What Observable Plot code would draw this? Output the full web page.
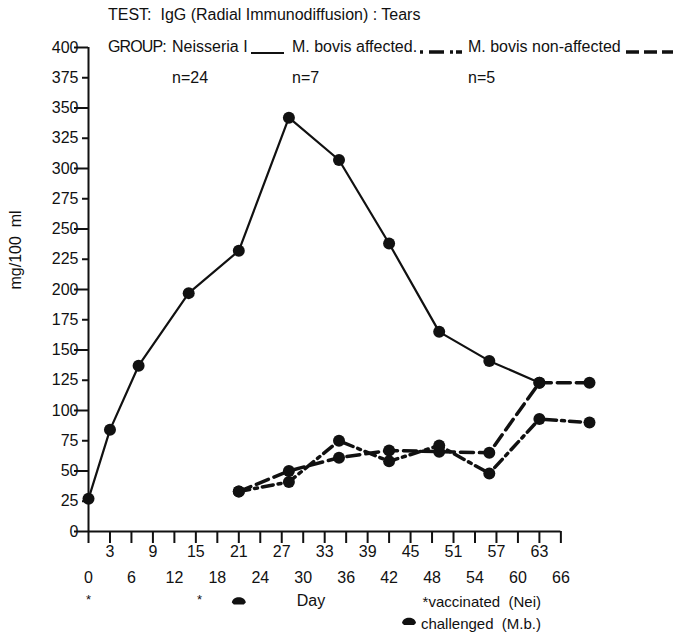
<!DOCTYPE html>
<html><head><meta charset="utf-8">
<script src="https://cdn.jsdelivr.net/npm/d3@7"></script>
<script src="https://cdn.jsdelivr.net/npm/@observablehq/plot@0.6"></script>
<style>
body{margin:0;background:#fff;}
#wrap{position:relative;width:673px;height:633px;font-family:"Liberation Sans",Arial,sans-serif;color:#111;}
.t{position:absolute;white-space:pre;font-size:16px;line-height:16px;}
#legend{position:absolute;left:0;top:0;}
</style></head><body><div id="wrap"></div>
<script>
// ---- data ----
const neisseriaDays = [0, 3, 7, 14, 21, 28, 35, 42, 49, 56, 63];
const neisseriaValues = [27, 84, 137, 197, 232, 342, 307, 238, 165, 141, 123];
const mbDays = [21, 28, 35, 42, 49, 56, 63, 70];
const affectedValues = [33, 41, 75, 58, 71, 48, 93, 90];
const nonAffectedValues = [33, 50, 61, 67, 66, 65, 123, 123];
const yTicksAll = [0, 25, 50, 75, 100, 125, 150, 175, 200, 225, 250, 275, 300, 325, 350, 375, 400];
const yTicksMajor = [0, 50, 100, 150, 200, 250, 300, 350, 400];
const yTicksMinor = [25, 75, 125, 175, 225, 275, 325, 375];
const xTicksAll = [0, 3, 6, 9, 12, 15, 18, 21, 24, 27, 30, 33, 36, 39, 42, 45, 48, 51, 54, 57, 60, 63, 66];
const xLabelsUpper = [3, 9, 15, 21, 27, 33, 39, 45, 51, 57, 63];
const xLabelsLower = [0, 6, 12, 18, 24, 30, 36, 42, 48, 54, 60, 66];
const xDomain = [0, 70];
const vaccinatedDays = [0, 15.5];
const challengedDays = [21];

const FONT = '"Liberation Sans",Arial,sans-serif';
const INK = "#111";

const neisseria = neisseriaDays.map((d, i) => ({day: d, value: neisseriaValues[i]}));
const affected = mbDays.map((d, i) => ({day: d, value: affectedValues[i]}));
const nonAffected = mbDays.map((d, i) => ({day: d, value: nonAffectedValues[i]}));

const capSymbol = {
  draw(ctx) {
    ctx.moveTo(-7, 1);
    ctx.bezierCurveTo(-6, -6, 6, -6, 7, 1);
    ctx.lineTo(5, 3);
    ctx.lineTo(-5, 3);
    ctx.closePath();
  }
};

const chart = Plot.plot({
  width: 673,
  height: 633,
  marginLeft: 88,
  marginRight: 84,
  marginTop: 47,
  marginBottom: 102,
  x: {domain: xDomain},
  y: {domain: [yTicksAll[0], yTicksAll[yTicksAll.length - 1]]},
  style: {fontFamily: FONT, fontSize: "16px", color: INK, background: "transparent", overflow: "visible"},
  marks: [
    Plot.ruleX([xTicksAll[0]], {y1: yTicksAll[0], y2: yTicksAll[yTicksAll.length - 1], stroke: INK, strokeWidth: 2}),
    Plot.ruleY([yTicksAll[0]], {x1: xTicksAll[0], x2: xTicksAll[xTicksAll.length - 1], stroke: INK, strokeWidth: 2}),
    Plot.axisY({ticks: yTicksMajor, tickSize: 14, tickFormat: () => "", label: null, strokeWidth: 2, stroke: INK}),
    Plot.axisY({ticks: yTicksMinor, tickSize: 6, tickFormat: () => "", label: null, strokeWidth: 2, stroke: INK}),
    Plot.axisY({ticks: yTicksAll, tickSize: 0, tickPadding: 10, label: null, fontSize: 16, fill: INK}),
    Plot.axisX({ticks: xTicksAll, tickSize: 12, tickFormat: () => "", label: null, strokeWidth: 2, stroke: INK}),
    Plot.axisX({ticks: xLabelsUpper, tickSize: 0, tickPadding: 14, label: null, fontSize: 16, fill: INK}),
    Plot.axisX({ticks: xLabelsLower, tickSize: 0, tickPadding: 40, label: null, fontSize: 16, fill: INK}),
    Plot.line(neisseria, {x: "day", y: "value", stroke: INK, strokeWidth: 2.2}),
    Plot.line(nonAffected, {x: "day", y: "value", stroke: INK, strokeWidth: 3.5, strokeDasharray: "13,6"}),
    Plot.line(affected, {x: "day", y: "value", stroke: INK, strokeWidth: 3.5, strokeDasharray: "11,5,3,5"}),
    Plot.dot(neisseria, {x: "day", y: "value", r: 6, fill: INK}),
    Plot.dot(nonAffected, {x: "day", y: "value", r: 6, fill: INK}),
    Plot.dot(affected, {x: "day", y: "value", r: 6, fill: INK}),
    Plot.text(vaccinatedDays, {x: d => d, frameAnchor: "bottom", dy: 72, text: () => "*", fontSize: 13, fill: INK}),
    Plot.dot(challengedDays, {x: d => d, frameAnchor: "bottom", dy: 70, symbol: capSymbol, fill: INK}),
    Plot.text(["Day"], {frameAnchor: "bottom", dx: -28, dy: 74, fontSize: 16, fill: INK}),
    Plot.text(["mg/100  ml"], {frameAnchor: "left", dx: -73, rotate: -90, fontSize: 16, fill: INK})
  ]
});

const wrap = document.getElementById("wrap");
wrap.appendChild(chart);

function addText(txt, left, top, opts = {}) {
  const s = document.createElement("div");
  s.className = "t";
  s.textContent = txt;
  if (opts.right != null) s.style.right = opts.right + "px"; else s.style.left = left + "px";
  s.style.top = top + "px";
  if (opts.size) { s.style.fontSize = opts.size + "px"; s.style.lineHeight = opts.size + "px"; }
  if (opts.spacing != null) s.style.letterSpacing = opts.spacing + "px";
  wrap.appendChild(s);
}
addText("TEST:  IgG (Radial Immunodiffusion) : Tears", 108, 7);
addText("GROUP:", 108, 39, {spacing: -0.9});
addText("Neisseria I", 172, 39);
addText("M. bovis affected.", 292, 39);
addText("M. bovis non-affected", 468, 39);
addText("n=24", 172, 70);
addText("n=7", 292, 70);
addText("n=5", 468, 70);
addText("*vaccinated  (Nei)", 0, 594, {right: 132, size: 15});
addText("challenged  (M.b.)", 0, 616, {right: 132, size: 15});

// legend line samples
const ns = "http://www.w3.org/2000/svg";
const lg = document.createElementNS(ns, "svg");
lg.setAttribute("width", 673); lg.setAttribute("height", 633);
lg.setAttribute("id", "legend");
lg.style.pointerEvents = "none";
function seg(x1, x2, y, w, dash) {
  const l = document.createElementNS(ns, "line");
  l.setAttribute("x1", x1); l.setAttribute("x2", x2);
  l.setAttribute("y1", y); l.setAttribute("y2", y);
  l.setAttribute("stroke", INK); l.setAttribute("stroke-width", w);
  if (dash) l.setAttribute("stroke-dasharray", dash);
  lg.appendChild(l);
}
seg(251, 284, 53, 2);
seg(420, 462, 52, 3.5, "3,6,15,6,3");
seg(626, 673, 52, 3.5, "13,5");
const cap = document.createElementNS(ns, "path");
cap.setAttribute("d", "M-7,1C-6,-6,6,-6,7,1L5,3L-5,3Z");
cap.setAttribute("transform", "translate(409,622)");
cap.setAttribute("fill", INK);
lg.appendChild(cap);
wrap.appendChild(lg);
</script>
</body></html>
